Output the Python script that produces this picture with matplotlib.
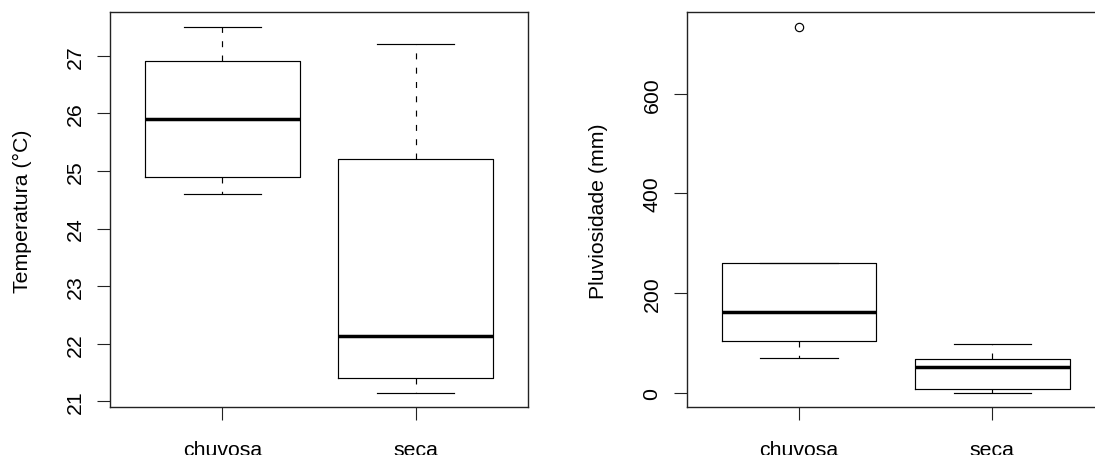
import matplotlib
matplotlib.use("Agg")
import matplotlib.pyplot as plt

plt.rcParams['font.family'] = ['Liberation Sans', 'DejaVu Sans']
plt.rcParams['lines.scale_dashes'] = False

# ---- data ----
categories = ["chuvosa", "seca"]

temp_whislo = [24.6, 21.15]
temp_q1 = [24.9, 21.4]
temp_med = [25.9, 22.13]
temp_q3 = [26.9, 25.2]
temp_whishi = [27.5, 27.2]
temp_fliers = [[], []]
temp_ticks = [21, 22, 23, 24, 25, 26, 27]

rain_whislo = [70.1, 0.0]
rain_q1 = [104.7, 7.4]
rain_med = [162.8, 52.1]
rain_q3 = [260.3, 66.7]
rain_whishi = [260.3, 97.5]
rain_fliers = [[734.1], []]
rain_ticks = [0, 200, 400, 600]

ylabels = ["Temperatura (°C)", "Pluviosidade (mm)"]

W, H = 1095, 456
fig = plt.figure(figsize=(W / 100, H / 100), dpi=100)

FS = 15.3
LW_BOX = 0.85
LW_MED = 2.5

ax_w_px = 417.6
panels = [
    (110.2, temp_whislo, temp_q1, temp_med, temp_q3, temp_whishi, temp_fliers, temp_ticks, ylabels[0]),
    (686.9, rain_whislo, rain_q1, rain_med, rain_q3, rain_whishi, rain_fliers, rain_ticks, ylabels[1]),
]

for left_px, wlo, q1, med, q3, whi, fl, ticks, ylab in panels:
    ax = fig.add_axes([left_px / W, (H - 408.3) / H, ax_w_px / W, 395.0 / H])
    stats = []
    for i, name in enumerate(categories):
        stats.append(dict(label=name, whislo=wlo[i], q1=q1[i], med=med[i],
                          q3=q3[i], whishi=whi[i], fliers=fl[i]))
    ax.bxp(stats, positions=[1, 2], widths=0.8, capwidths=0.4,
           boxprops=dict(color='black', linewidth=LW_BOX),
           medianprops=dict(color='black', linewidth=LW_MED, solid_capstyle='butt'),
           whiskerprops=dict(color='black', linewidth=LW_BOX, linestyle=(0, (4.3, 6.0))),
           capprops=dict(color='black', linewidth=LW_BOX),
           flierprops=dict(marker='o', markerfacecolor='none', markeredgecolor='black',
                           markersize=6.0, markeredgewidth=0.85, linestyle='none'))
    lo = min(wlo + [v for f in fl for v in f])
    hi = max(whi + [v for f in fl for v in f])
    pad = 0.04 * (hi - lo)
    ax.set_ylim(lo - pad, hi + pad)
    ax.set_xlim(0.42, 2.58)
    ax.set_xticks([1, 2])
    ax.set_xticklabels(categories)
    ax.set_yticks(ticks)
    ax.set_yticklabels([str(t) for t in ticks])
    for sp in ax.spines.values():
        sp.set_linewidth(1.0)
        sp.set_color('#222222')
    ax.tick_params(axis='both', direction='out', length=9.6, width=0.8,
                   color='#222222', labelsize=FS, labelcolor='black')
    ax.tick_params(axis='x', pad=14.0)
    ax.tick_params(axis='y', pad=8.7, labelrotation=90)
    for lbl in ax.get_yticklabels():
        lbl.set_va('center')
    ax.set_ylabel(ylab, fontsize=FS)
    ax.yaxis.set_label_coords(-88.0 / ax_w_px, 0.5)
    ax.yaxis.label.set_va('center')

fig.savefig("out.png", dpi=100)
